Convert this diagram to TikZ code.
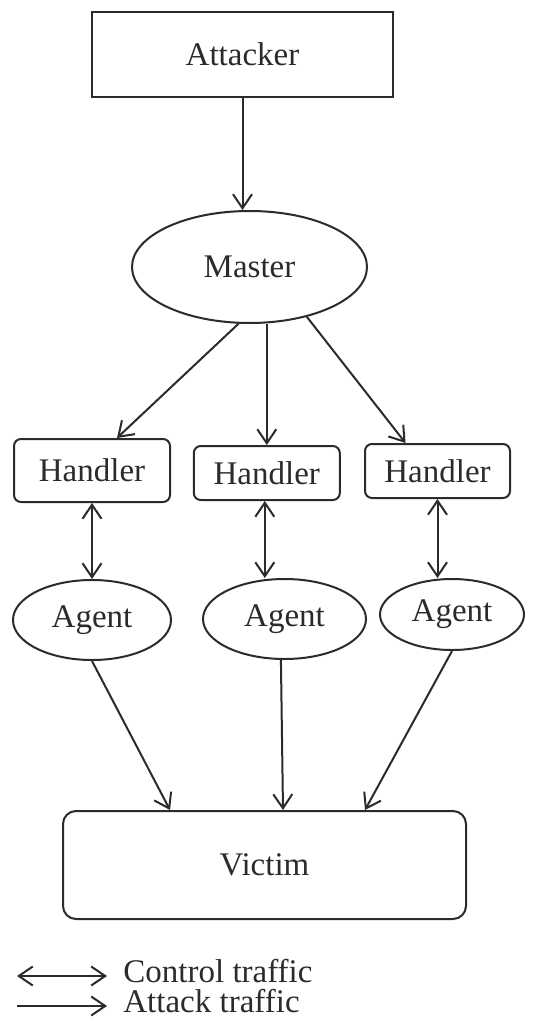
\documentclass[tikz,border=0pt]{standalone}
\usepackage{fontspec}
\setmainfont{Liberation Serif}
\usetikzlibrary{arrows.meta,shapes.geometric,calc}
\definecolor{ink}{HTML}{2B2B2B}
\begin{document}
\begin{tikzpicture}[x=0.5pt,y=-0.5pt,
  every node/.style={font=\fontsize{16.5pt}{19pt}\selectfont, text=ink, inner sep=0pt},
  box/.style={draw=ink, line width=1pt, rectangle},
  rbox/.style={draw=ink, line width=1pt, rectangle, rounded corners=3.5pt},
  oval/.style={draw=ink, line width=1pt, ellipse},
  conn/.style={draw=ink, line width=1pt, -{Straight Barb[length=7pt,width=9.5pt]}},
  both/.style={draw=ink, line width=1pt, {Straight Barb[length=7pt,width=9.5pt]}-{Straight Barb[length=7pt,width=9.5pt]}}
]
\useasboundingbox (0,0) rectangle (539,1032);
\fill[white] (0,0) rectangle (539,1032);

% nodes
\node[box, minimum width=150.5pt, minimum height=42.5pt] (attacker) at (242.5,54.5) {Attacker};
\node[oval, minimum width=117.5pt, minimum height=56pt] (master) at (249.5,267) {Master};

\node[rbox, minimum width=78pt, minimum height=31.5pt] (h1) at (92,470.5) {Handler};
\node[rbox, minimum width=73pt, minimum height=27pt] (h2) at (266.8,473) {Handler};
\node[rbox, minimum width=72.5pt, minimum height=27pt] (h3) at (437.5,471) {Handler};

\node[oval, minimum width=79pt, minimum height=40pt] (a1) at (92,620) {Agent};
\node[oval, minimum width=81.5pt, minimum height=40pt] (a2) at (284.5,619) {Agent};
\node[oval, minimum width=72pt, minimum height=35.5pt] (a3) at (452,614.5) {Agent};

\node[rbox, rounded corners=6.5pt, minimum width=201.5pt, minimum height=54pt] (victim) at (264.5,865) {Victim};

% attacker -> master
\draw[conn] (attacker.south) -- (attacker.south |- master.north);

% master -> handlers
\draw[conn] (master.259.6) -- ($(h1.north)+(25,0)$);
\draw[conn] (master.south -| h2.north) -- (h2.north);
\draw[conn] (master.319) -- ($(h3.north)+(-32,0)$);

% handlers <-> agents
\draw[both] (h1.south) -- (h1.south |- a1.north);
\draw[both] ($(h2.south)+(-2,0)$) coordinate (h2s) -- (h2s |- a2.north);
\draw[both] (h3.south) -- (h3.south |- a3.north);

% agents -> victim
\draw[conn] (a1.south) -- ($(victim.north)+(-94.5,0)$);
\draw[conn] (a2.265) -- ($(victim.north)+(18.5,0)$);
\draw[conn] (a3.south) -- ($(victim.north)+(100.5,0)$);

% legend
\coordinate (c1) at (17,976);
\coordinate (c2) at (107,976);
\coordinate (d1) at (17,1006);
\coordinate (d2) at (107,1006);
\draw[both] (c1) -- (c2);
\draw[conn] (d1) -- (d2);
\node[anchor=base west] (lc) at (123,982) {Control traffic};
\node[anchor=base west] (la) at (123,1012) {Attack traffic};
\end{tikzpicture}
\end{document}
